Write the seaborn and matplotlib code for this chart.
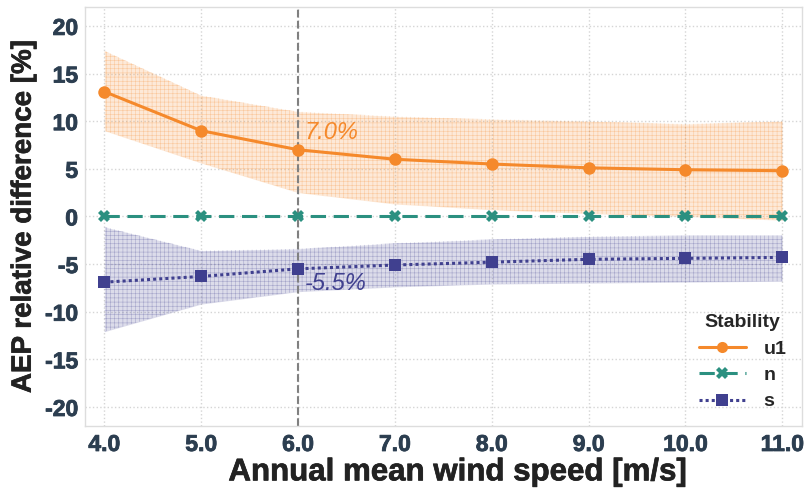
import numpy as np
import pandas as pd
import matplotlib
matplotlib.use("Agg")
import matplotlib.pyplot as plt
import matplotlib.patheffects as pe
import seaborn as sns

# Annual mean wind speeds [m/s]
wind_speed = [4.0, 5.0, 6.0, 7.0, 8.0, 9.0, 10.0, 11.0]

# AEP relative difference [%] per stability class
u1_mean = [13.1, 9.0, 7.0, 6.0, 5.5, 5.1, 4.9, 4.8]
u1_low = [9.0, 5.6, 2.5, 1.3, 0.7, 0.3, 0.0, -0.4]
u1_high = [17.4, 12.7, 11.0, 10.5, 10.2, 10.0, 9.7, 10.0]

n_mean = [0.0, 0.0, 0.0, 0.0, 0.0, 0.0, 0.0, 0.0]

s_mean = [-6.9, -6.3, -5.5, -5.1, -4.8, -4.5, -4.4, -4.3]
s_low = [-12.1, -9.2, -7.9, -7.4, -7.1, -7.0, -6.9, -6.8]
s_high = [-1.1, -3.6, -3.4, -2.8, -2.4, -2.1, -2.0, -2.0]

stability = ["u1", "n", "s"]
palette = {"u1": "#f5892b", "n": "#2b9080", "s": "#40408f"}
markers = {"u1": "o", "n": "X", "s": "s"}
dashes = {"u1": "", "n": (5, 2.5), "s": (1, 1)}

ref_speed = 6.0
ref_labels = {"u1": "7.0%", "s": "-5.5%"}

df = pd.DataFrame({
    "wind": wind_speed * 3,
    "aep": u1_mean + n_mean + s_mean,
    "Stability": ["u1"] * 8 + ["n"] * 8 + ["s"] * 8,
})

sns.set_theme(style="whitegrid")
plt.rcParams["font.family"] = ["Liberation Sans", "DejaVu Sans"]
plt.rcParams["hatch.linewidth"] = 0.4
plt.rcParams["axes.unicode_minus"] = False

fig, ax = plt.subplots(figsize=(8.09, 4.88), dpi=100)

# Uncertainty bands
for key, lo, hi in [("u1", u1_low, u1_high), ("s", s_low, s_high)]:
    ax.fill_between(wind_speed, lo, hi, facecolor=palette[key], alpha=0.18,
                    linewidth=0, zorder=1)
    ax.fill_between(wind_speed, lo, hi, facecolor="none",
                    edgecolor=matplotlib.colors.to_rgba(palette[key], 0.35),
                    hatch="++++", linewidth=0, zorder=1)

sns.lineplot(data=df, x="wind", y="aep", hue="Stability", style="Stability",
             hue_order=stability, style_order=stability,
             palette=palette, markers=markers, dashes=dashes,
             markersize=9, linewidth=2.2, markeredgewidth=0, ax=ax, zorder=3)

ax.axvline(ref_speed, color="grey", linestyle="--", linewidth=1.5, zorder=2)

ax.text(ref_speed + 0.07, u1_mean[2] + 1.8, ref_labels["u1"], color=palette["u1"],
        fontsize=17, style="italic", va="center", ha="left")
ax.text(ref_speed + 0.07, s_mean[2] - 1.5, ref_labels["s"], color=palette["s"],
        fontsize=17, style="italic", va="center", ha="left")

ax.set_xlim(3.8, 11.2)
ax.set_ylim(-22, 22)
ax.set_xticks(wind_speed)
ax.set_xticklabels([f"{v:.1f}" for v in wind_speed])
ax.set_yticks(np.arange(-20, 21, 5))
ax.tick_params(axis="both", length=0, labelsize=16.5, colors="#2c3e50", pad=5)
tick_fx = [pe.withStroke(linewidth=0.6, foreground="#2c3e50")]
for lbl in ax.get_xticklabels() + ax.get_yticklabels():
    lbl.set_fontweight("bold")
    lbl.set_path_effects(tick_fx)

label_fx = [pe.withStroke(linewidth=0.5, foreground="#222222")]
ax.set_xlabel("Annual mean wind speed [m/s]", fontsize=22.5, fontweight="bold",
              color="#222222", labelpad=1, path_effects=label_fx)
ax.xaxis.label.set_x(0.52)
ax.set_ylabel("AEP relative difference [%]", fontsize=20, fontweight="bold",
              color="#222222", labelpad=6, path_effects=label_fx)

ax.grid(True, color="#d5d5d5", linestyle=":", linewidth=1)
for sp in ax.spines.values():
    sp.set_color("#dddddd")
    sp.set_linewidth(1)

leg = ax.legend(title="Stability", loc="lower right", frameon=False,
                fontsize=14, title_fontsize=14, handlelength=2.4,
                handletextpad=0.9, labelspacing=0.45, borderaxespad=0.4)
leg.get_title().set_fontweight("bold")
for t in leg.get_texts():
    t.set_fontweight("bold")
for h in leg.legend_handles:
    h.set_markersize(8)

fig.subplots_adjust(left=0.105, right=0.991, top=0.986, bottom=0.127)
fig.savefig("out.png", dpi=100)
